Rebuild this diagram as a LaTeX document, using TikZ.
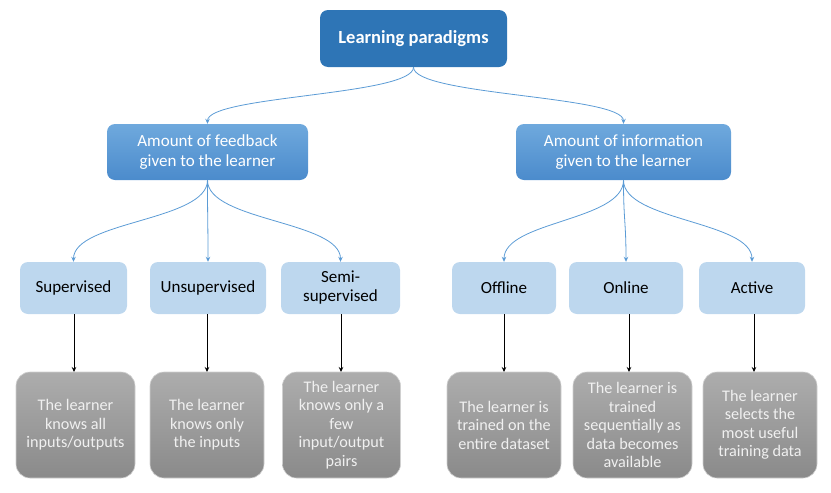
\documentclass[tikz,border=0pt]{standalone}
\usepackage{fontspec}
\setmainfont{Carlito}
\usetikzlibrary{arrows.meta,calc}
\definecolor{rootblue}{HTML}{2E75B6}
\definecolor{midtop}{HTML}{6FA9DD}
\definecolor{midbot}{HTML}{4B8BCC}
\definecolor{leafblue}{HTML}{BDD7EE}
\definecolor{graytop}{HTML}{ADADAD}
\definecolor{graybot}{HTML}{8A8A8A}
\definecolor{grayedge}{HTML}{D0D0D0}
\definecolor{graytext}{HTML}{F0F0F0}
\definecolor{linkblue}{HTML}{5B9BD5}
\tikzset{
  rootbox/.style={fill=rootblue, rounded corners=8pt, text=white, font=\fontsize{18.5}{22}\selectfont\bfseries,
    align=center, inner sep=0pt, minimum width=187pt, minimum height=57pt},
  groupbox/.style={top color=midtop, bottom color=midbot, rounded corners=8pt, text=white,
    font=\fontsize{17}{20}\selectfont, align=center, inner sep=0pt, minimum height=56pt},
  leafbox/.style={fill=leafblue, rounded corners=8pt, text=black,
    font=\fontsize{17}{19}\selectfont, align=center, inner sep=0pt, minimum height=52pt},
  notebox/.style={top color=graytop, bottom color=graybot, draw=grayedge, line width=0.6pt,
    rounded corners=14pt, text=graytext, font=\fontsize{16.2}{18.5}\selectfont, align=center,
    inner sep=0pt, minimum height=106pt},
  link/.style={draw=linkblue, line width=0.8pt, -{Stealth[length=5pt,width=4.5pt]}},
  down/.style={draw=black, line width=0.8pt, -{Stealth[length=5pt,width=4.5pt]}},
}
\newcommand{\curvelink}[2]{%
  \draw[link] let \p1=(#1.south), \p2=(#2.north) in
    (\p1) .. controls (\x1,{0.5*(\y1+\y2)}) and (\x2,{0.5*(\y1+\y2)}) .. (\p2);}
\begin{document}
\begin{tikzpicture}[x=1pt,y=-1pt]
\useasboundingbox (0,0) rectangle (831,493);

% top and second level
\node[rootbox] (root) at (413.5,38.5) {Learning paradigms};
\node[groupbox, minimum width=201pt] (feed) at (207.5,152) {Amount of feedback\\given to the learner};
\node[groupbox, minimum width=215pt] (info) at (623.5,152) {Amount of information\\given to the learner};

% paradigms
\node[leafbox, minimum width=107pt] (sup)  at (73.5,288)  {Supervised};
\node[leafbox, minimum width=116pt] (uns)  at (208,288)   {Unsupervised};
\node[leafbox, minimum width=119pt] (semi) at (340.5,288) {Semi-\\supervised};
\node[leafbox, minimum width=104pt] (off)  at (504,288)   {Offline};
\node[leafbox, minimum width=114pt] (onl)  at (626,288)   {Online};
\node[leafbox, minimum width=106pt] (act)  at (752,288)   {Active};

% descriptions
\node[notebox, minimum width=119pt] (dsup)  at (75.5,425)  {The learner\\knows all\\inputs/outputs};
\node[notebox, minimum width=114pt] (duns)  at (207,425)   {The learner\\knows only\\the inputs};
\node[notebox, minimum width=118pt] (dsemi) at (341.5,425) {The learner\\knows only a\\few\\input/output\\pairs};
\node[notebox, minimum width=114pt] (doff)  at (504,425)   {The learner is\\trained on the\\entire dataset};
\node[notebox, minimum width=119pt] (donl)  at (632.5,425) {The learner is\\trained\\sequentially as\\data becomes\\available};
\node[notebox, minimum width=114pt] (dact)  at (760,425)   {The learner\\selects the\\most useful\\training data};

% curved tree links
\curvelink{root}{feed}
\curvelink{root}{info}
\curvelink{feed}{sup}
\curvelink{feed}{uns}
\curvelink{feed}{semi}
\curvelink{info}{off}
\curvelink{info}{onl}
\curvelink{info}{act}

% straight links to descriptions
\foreach \a/\b/\xx in {sup/dsup/74, uns/duns/207, semi/dsemi/341, off/doff/504, onl/donl/629, act/dact/754}
  \draw[down] (\xx,314) -- (\xx,372);
\end{tikzpicture}
\end{document}
